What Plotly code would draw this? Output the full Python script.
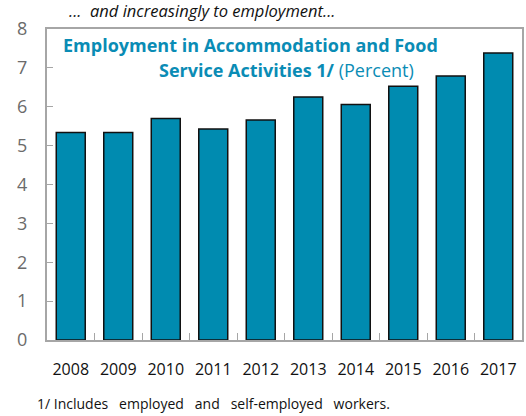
import plotly.graph_objects as go

years = ["2008", "2009", "2010", "2011", "2012", "2013", "2014", "2015", "2016", "2017"]
share = [5.34, 5.34, 5.70, 5.43, 5.66, 6.25, 6.06, 6.53, 6.79, 7.38]
y_ticks = [0, 1, 2, 3, 4, 5, 6, 7, 8]

BAR = "#008BB0"
TITLE = "#0A8CB5"
GRID = "#A6A6A6"
FONT = "Open Sans"

fig = go.Figure()
fig.add_trace(
    go.Bar(
        x=years,
        y=share,
        marker=dict(color=BAR, line=dict(color="#111111", width=1.5)),
        width=0.61,
    )
)

fig.update_layout(
    width=526,
    height=416,
    margin=dict(l=47, r=4, t=29, b=76),
    plot_bgcolor="white",
    paper_bgcolor="white",
    showlegend=False,
    font=dict(family=FONT),
)
fig.update_xaxes(
    type="category",
    automargin=False,
    showline=True,
    linecolor=GRID,
    linewidth=2,
    mirror=True,
    ticks="inside",
    tickson="boundaries",
    ticklen=7,
    tickcolor=GRID,
    tickangle=0,
    tickfont=dict(size=16, color="#111111"),
    ticklabelstandoff=14,
    showgrid=False,
)
fig.update_yaxes(
    range=[0, 8],
    automargin=False,
    tickvals=y_ticks,
    showline=True,
    linecolor=GRID,
    linewidth=2,
    mirror=True,
    ticks="inside",
    ticklen=6,
    tickcolor=GRID,
    tickfont=dict(size=18, color="#6B6B6B"),
    ticklabelstandoff=14,
    showgrid=False,
    zeroline=False,
)

fig.add_annotation(
    text="<i>...  and increasingly to employment...</i>",
    xref="paper", yref="paper", x=0.042, y=1.058,
    xanchor="left", yanchor="middle", showarrow=False,
    font=dict(size=16.5, color="#111111", family=FONT),
)
fig.add_annotation(
    text="<b>Employment in Accommodation and Food</b>",
    xref="paper", yref="paper", x=0.029, y=0.948,
    xanchor="left", yanchor="middle", showarrow=False,
    font=dict(size=18, color=TITLE, family=FONT),
)
fig.add_annotation(
    text="<b>Service Activities 1/</b> (Percent)",
    xref="paper", yref="paper", x=0.776, y=0.868,
    xanchor="right", yanchor="middle", showarrow=False,
    font=dict(size=18, color=TITLE, family=FONT),
)
fig.add_annotation(
    text="1/ Includes   employed   and   self-employed   workers.",
    xref="paper", yref="paper", x=-0.026, y=-0.205,
    xanchor="left", yanchor="middle", showarrow=False,
    font=dict(size=14, color="#111111", family=FONT),
)

# page has a default 8px body margin; remove it so the figure fills the window
fig.write_html(
    "out.html",
    config={"displayModeBar": False},
    post_script="document.body.style.margin='0';",
)
